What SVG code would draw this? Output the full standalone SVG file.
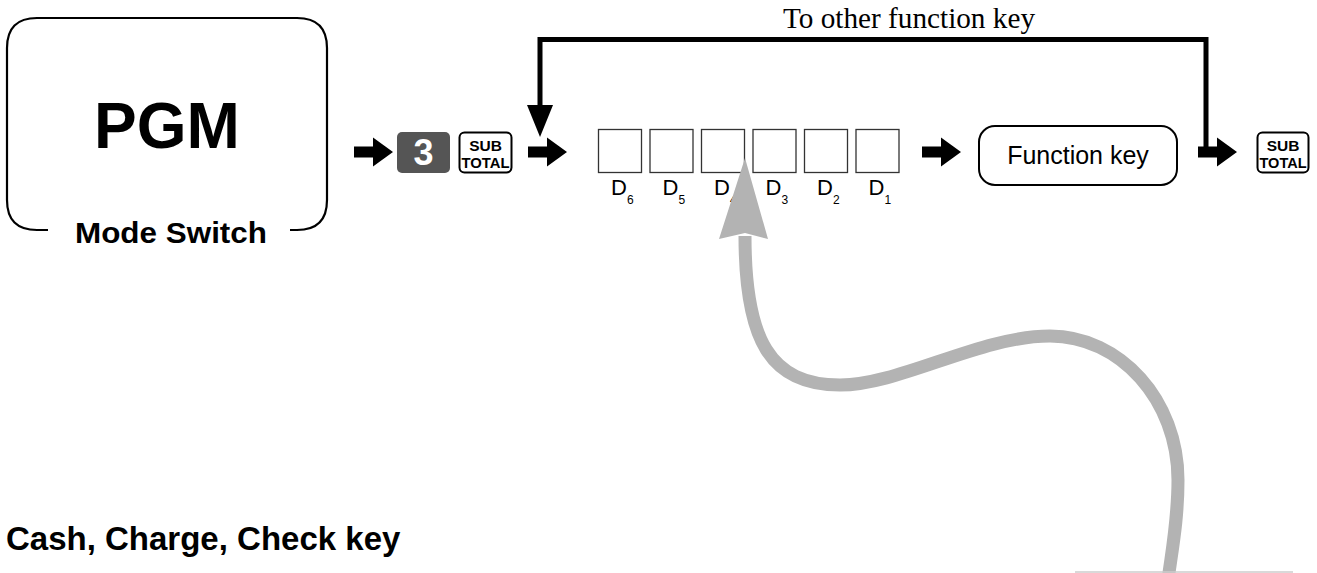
<svg xmlns="http://www.w3.org/2000/svg" width="1317" height="573" viewBox="0 0 1317 573">
<style>
.sans{font-family:"Liberation Sans",Arial,sans-serif;}
.serif{font-family:"Liberation Serif","Times New Roman",serif;}
.bold{font-weight:bold;}
.key{fill:#fff;stroke:#000;stroke-width:2;}
.digit{fill:#fff;stroke:#333;stroke-width:1.3;}
.keytxt{font-family:"Liberation Sans",Arial,sans-serif;font-weight:bold;font-size:15.5px;text-anchor:middle;}
.dl{font-family:"Liberation Sans",Arial,sans-serif;font-size:22px;}
.ds{font-size:12px;}
</style>
<defs>
<path id="blk" d="M0,-5.5 H19 V-14.5 L39,0 L19,14.5 V5.5 H0 Z" fill="#000"/>
</defs>
<rect width="1317" height="573" fill="#fff"/>

<g id="mode-switch">
<path d="M48,230 H37 Q7,230 7,200 V48 Q7,18 37,18 H297 Q327,18 327,48 V200 Q327,230 297,230 H290" fill="none" stroke="#000" stroke-width="2.2"/>
<text x="167" y="148" class="sans bold" font-size="64" text-anchor="middle">PGM</text>
<text x="171" y="243" class="sans bold" font-size="30" text-anchor="middle" textLength="192" lengthAdjust="spacingAndGlyphs">Mode Switch</text>
</g>

<g id="key-3">
<rect x="397" y="132" width="53" height="41" rx="5" fill="#555"/>
<text x="423.5" y="164.5" class="sans bold" font-size="36" fill="#fff" text-anchor="middle">3</text>
</g>

<g id="subtotal-1">
<rect x="459.5" y="132.5" width="52" height="40" rx="5" class="key"/>
<text x="485.5" y="150.5" class="keytxt">SUB</text>
<text x="485.5" y="167.5" class="keytxt" textLength="48" lengthAdjust="spacingAndGlyphs">TOTAL</text>
</g>

<g id="digits">
<rect x="598.5" y="129.5" width="43" height="43" class="digit"/>
<rect x="650" y="129.5" width="43" height="43" class="digit"/>
<rect x="701.5" y="129.5" width="43" height="43" class="digit"/>
<rect x="753" y="129.5" width="43" height="43" class="digit"/>
<rect x="804.5" y="129.5" width="43" height="43" class="digit"/>
<rect x="856" y="129.5" width="43" height="43" class="digit"/>
<text x="611" y="195" class="dl">D<tspan class="ds" dy="9">6</tspan></text>
<text x="662.5" y="195" class="dl">D<tspan class="ds" dy="9">5</tspan></text>
<text x="714" y="195" class="dl">D<tspan class="ds" dy="9">4</tspan></text>
<text x="765.5" y="195" class="dl">D<tspan class="ds" dy="9">3</tspan></text>
<text x="817" y="195" class="dl">D<tspan class="ds" dy="9">2</tspan></text>
<text x="868.5" y="195" class="dl">D<tspan class="ds" dy="9">1</tspan></text>
</g>

<g id="function-key">
<rect x="979" y="126" width="198" height="59" rx="16" class="key"/>
<text x="1078" y="164" class="sans" font-size="25" text-anchor="middle">Function key</text>
</g>

<g id="subtotal-2">
<rect x="1257.5" y="132.5" width="51" height="40" rx="5" class="key"/>
<text x="1283" y="150.5" class="keytxt">SUB</text>
<text x="1283" y="167.5" class="keytxt" textLength="47" lengthAdjust="spacingAndGlyphs">TOTAL</text>
</g>

<g id="cash-label">
<text x="6" y="550" class="sans bold" font-size="33">Cash, Charge, Check key</text>
</g>

<g id="connectors">
<use href="#blk" x="354" y="152"/>
<use href="#blk" x="528" y="152"/>
<use href="#blk" x="922" y="152"/>
<use href="#blk" x="1198" y="152"/>
<path d="M540,108 V39.5 H1206 V147" fill="none" stroke="#000" stroke-width="5"/>
<polygon points="527,105 553,105 540,137" fill="#000"/>
<text x="783" y="28" class="serif" font-size="29" textLength="252" lengthAdjust="spacingAndGlyphs">To other function key</text>
<path d="M745,236 C745,340 770,385 840,385 C900,385 980,336 1050,336 C1120,336 1178,400 1178,480 C1178,520 1172,550 1168,580" fill="none" stroke="#b3b3b3" stroke-width="13"/>
<polygon points="745,158 768,239 745,233 719,239" fill="#b3b3b3"/>
<line x1="1075" y1="572" x2="1293" y2="572" stroke="#ccc" stroke-width="1.5"/>
</g>
</svg>
